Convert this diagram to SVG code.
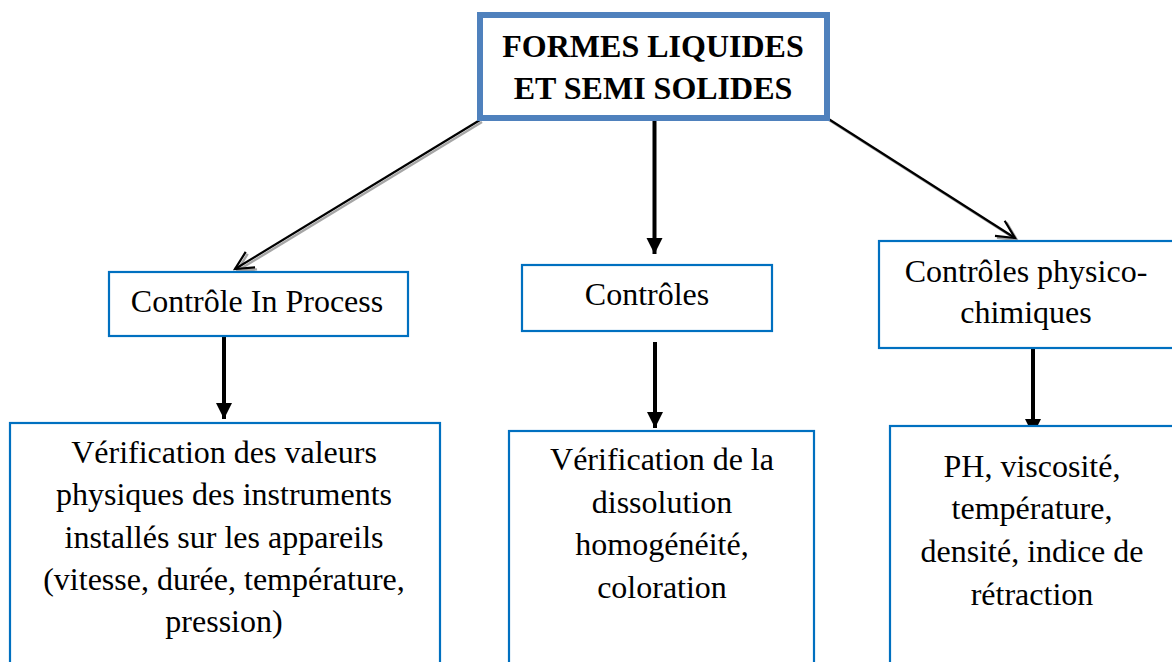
<svg xmlns="http://www.w3.org/2000/svg" width="1172" height="662" viewBox="0 0 1172 662">
  <style>
    .box { fill: #ffffff; stroke: #0070C0; stroke-width: 2.2; }
    .main { fill: #ffffff; stroke: #4F81BD; stroke-width: 6; }
    .lbl { font-family: "Liberation Serif", "Times New Roman", serif; font-size: 32px; fill: #000000; text-anchor: middle; }
    .title { font-weight: bold; }
    .diag { fill: none; stroke: #000000; stroke-width: 2.2; }
    .shadow { fill: none; stroke: #a6a6a6; stroke-width: 2.4; }
    .down { fill: none; stroke: #000000; stroke-width: 4; }
  </style>
  <defs>
    <marker id="open" markerUnits="userSpaceOnUse" markerWidth="24" markerHeight="24" refX="20" refY="10" orient="auto" overflow="visible">
      <path d="M2,1 L20,10 L2,19" fill="none" stroke="#000000" stroke-width="2.2"/>
    </marker>
    <marker id="openShadow" markerUnits="userSpaceOnUse" markerWidth="24" markerHeight="24" refX="20" refY="10" orient="auto" overflow="visible">
      <path d="M2,1 L20,10 L2,19" fill="none" stroke="#a6a6a6" stroke-width="2.4"/>
    </marker>
    <marker id="solid" markerUnits="userSpaceOnUse" markerWidth="18" markerHeight="18" refX="16" refY="8" orient="auto" overflow="visible">
      <path d="M0,0 L16,8 L0,16 Z" fill="#000000"/>
    </marker>
  </defs>

  <rect width="1172" height="662" fill="#ffffff"/>

  <!-- connectors -->
  <g id="connectors">
    <!-- diagonal links with a soft grey drop shadow -->
    <line class="shadow" x1="482" y1="122" x2="237" y2="271" marker-end="url(#openShadow)"/>
    <line class="diag" x1="480" y1="120" x2="235" y2="269" marker-end="url(#open)"/>
    <line class="shadow" x1="829" y1="120" x2="1017" y2="240" marker-end="url(#openShadow)"/>
    <line class="diag" x1="827" y1="118" x2="1015" y2="238" marker-end="url(#open)"/>
    <!-- vertical links -->
    <line class="down" x1="654.5" y1="121" x2="654.5" y2="254" marker-end="url(#solid)"/>
    <line class="down" x1="224" y1="333" x2="224" y2="419" marker-end="url(#solid)"/>
    <line class="down" x1="655" y1="342" x2="655" y2="428" marker-end="url(#solid)"/>
    <line class="down" x1="1033" y1="349" x2="1033" y2="435" marker-end="url(#solid)"/>
  </g>

  <!-- root -->
  <g id="formes">
    <rect class="main" x="480" y="15" width="347" height="103"/>
    <text class="lbl title" x="653" y="57">FORMES LIQUIDES</text>
    <text class="lbl title" x="653" y="99">ET SEMI SOLIDES</text>
  </g>

  <!-- second level -->
  <g id="in-process">
    <rect class="box" x="109" y="272" width="299" height="64"/>
    <text class="lbl" x="257" y="312">Contrôle In Process</text>
  </g>
  <g id="controles">
    <rect class="box" x="522" y="265" width="250" height="66"/>
    <text class="lbl" x="647" y="305">Contrôles</text>
  </g>
  <g id="physico">
    <rect class="box" x="879" y="241" width="300" height="107"/>
    <text class="lbl" x="1026" y="282">Contrôles physico-</text>
    <text class="lbl" x="1026" y="323">chimiques</text>
  </g>

  <!-- third level -->
  <g id="verif-valeurs">
    <rect class="box" x="10" y="423" width="430" height="260"/>
    <text class="lbl" x="224" y="463">Vérification des valeurs</text>
    <text class="lbl" x="224" y="505">physiques des instruments</text>
    <text class="lbl" x="224" y="548">installés sur les appareils</text>
    <text class="lbl" x="224" y="590">(vitesse, durée, température,</text>
    <text class="lbl" x="224" y="632">pression)</text>
  </g>
  <g id="verif-dissolution">
    <rect class="box" x="509" y="431" width="305" height="260"/>
    <text class="lbl" x="662" y="470">Vérification de la</text>
    <text class="lbl" x="662" y="513">dissolution</text>
    <text class="lbl" x="662" y="555">homogénéité,</text>
    <text class="lbl" x="662" y="598">coloration</text>
  </g>
  <g id="mesures">
    <rect class="box" x="890" y="426" width="300" height="260"/>
    <text class="lbl" x="1032" y="477">PH, viscosité,</text>
    <text class="lbl" x="1032" y="519">température,</text>
    <text class="lbl" x="1032" y="562">densité, indice de</text>
    <text class="lbl" x="1032" y="605">rétraction</text>
  </g>
</svg>
